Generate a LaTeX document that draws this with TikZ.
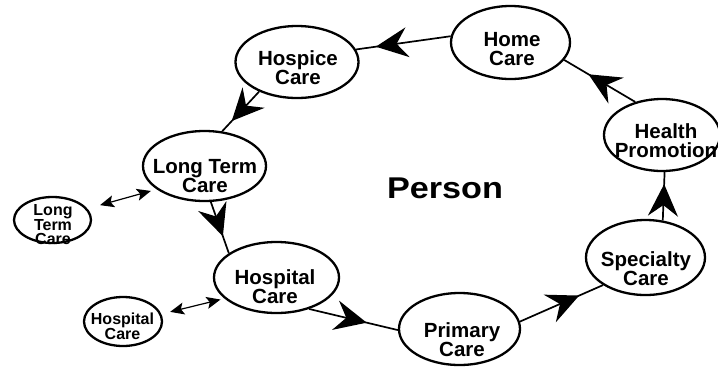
\documentclass[tikz,border=0pt]{standalone}
\usepackage{fontspec}
\setmainfont{Liberation Sans}
\usetikzlibrary{shapes.geometric,arrows.meta,decorations.markings}
\tikzset{
  care/.style={ellipse, draw, line width=2.3pt, inner sep=0pt},
  bigtext/.style={font=\bfseries\fontsize{20.5}{19}\selectfont, align=center, inner sep=0pt},
  smalltext/.style={font=\bfseries\fontsize{16}{14.5}\selectfont, align=center, inner sep=0pt},
  flow/.style={line width=1.7pt, postaction={decorate, decoration={markings,
      mark=at position #1 with {\arrow{Stealth[length=32pt,width=30pt,inset=11pt]}}}}},
  link/.style={line width=1.2pt,
      {Stealth[length=14pt,width=12pt,inset=3pt]}-{Stealth[length=14pt,width=12pt,inset=3pt]}},
}
\begin{document}
\begin{tikzpicture}[x=1pt,y=-1pt]
\clip (0,0) rectangle (718,368);
\fill[white] (0,0) rectangle (718,368);
% ellipses
\node[care, minimum width=123pt, minimum height=72pt] (hospice) at (297,62) {};
\node[care, minimum width=119pt, minimum height=73pt] (home) at (510.5,42.5) {};
\node[care, minimum width=116pt, minimum height=72pt] (health) at (662,135) {};
\node[care, minimum width=123pt, minimum height=70pt] (ltc) at (204.5,166) {};
\node[care, minimum width=125pt, minimum height=71pt] (hospital) at (276.5,277.5) {};
\node[care, minimum width=121pt, minimum height=72pt] (primary) at (459.5,329) {};
\node[care, minimum width=119pt, minimum height=75pt] (specialty) at (645.5,257.5) {};
\node[care, minimum width=77pt, minimum height=46pt] (sltc) at (52.5,220) {};
\node[care, minimum width=78pt, minimum height=49pt] (shosp) at (123,321.5) {};
% texts
\node[bigtext] (thospice) at (298,67.5) {Hospice\\Care};
\node[bigtext] (thome) at (512,49.5) {Home\\Care};
\node[bigtext] (thealth) at (666,141) {Health\\Promotion};
\node[bigtext] (tltc) at (205,176) {Long Term\\Care};
\node[bigtext] (thospital) at (275,287) {Hospital\\Care};
\node[bigtext] (tprimary) at (462,340) {Primary\\Care};
\node[bigtext] (tspecialty) at (646,269) {Specialty\\Care};
\node[smalltext] (tsltc) at (53,225) {Long\\Term\\Care};
\node[smalltext] (tshosp) at (122.5,326.5) {Hospital\\Care};
\node[font=\bfseries\fontsize{30}{30}\selectfont, inner sep=0pt] (person) at (445,188) {\scalebox{1.14}[1]{Person}};
% cycle
\draw[flow=-20pt] (home.174) -- (hospice.12);
\draw[flow=-14pt] (hospice.218) -- (ltc.63);
\draw[flow=-18pt] (ltc.280) -- (hospital.153);
\draw[flow=-32pt] (hospital.316) -- (primary.181);
\draw[flow=-26pt] (primary.7) -- (specialty.213);
\draw[flow=-12pt] (specialty.65) -- (health.274);
\draw[flow=-28pt] (health.129) -- (home.342);
% side links
\draw[link, shorten <=13pt, shorten >=6pt] (sltc.18) -- (ltc.206);
\draw[link, shorten <=9pt, shorten >=4pt] (shosp.11) -- (hospital.202);
\end{tikzpicture}
\end{document}
